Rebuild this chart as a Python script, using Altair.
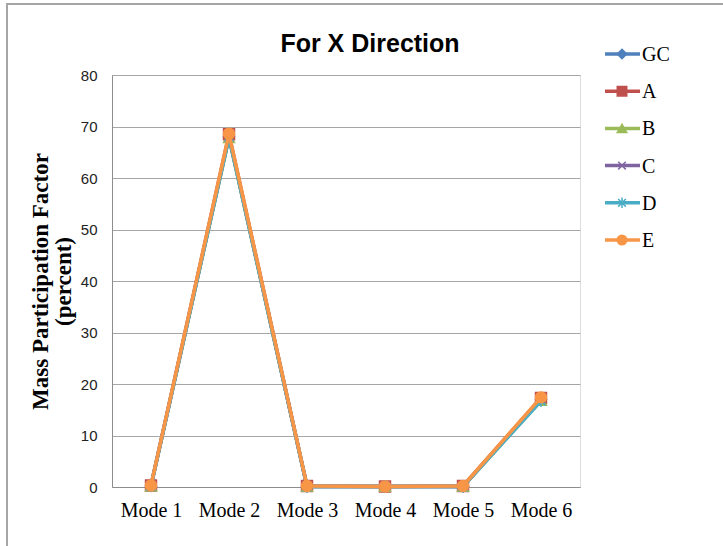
import altair as alt
import pandas as pd

# Mode shapes along the x axis
modes = ["Mode 1", "Mode 2", "Mode 3", "Mode 4", "Mode 5", "Mode 6"]

# Mass participation factor (percent) per model, X direction
gc = [0.2, 68.0, 0.1, 0.1, 0.1, 17.0]
a = [0.3, 68.5, 0.2, 0.1, 0.2, 17.3]
b = [0.2, 67.8, 0.1, 0.1, 0.1, 16.8]
c = [0.2, 68.1, 0.1, 0.1, 0.1, 17.1]
d = [0.2, 67.9, 0.1, 0.1, 0.1, 16.7]
e = [0.3, 68.6, 0.2, 0.1, 0.2, 17.4]

series_names = ["GC", "A", "B", "C", "D", "E"]
series_values = [gc, a, b, c, d, e]
colors = ["#4F81BD", "#C0504D", "#9BBB59", "#8064A2", "#4BACC6", "#F79646"]
shapes = [
    "diamond",
    "square",
    "triangle-up",
    "M-0.8,-0.8L0.8,0.8M-0.8,0.8L0.8,-0.8",
    "M-0.8,-0.8L0.8,0.8M-0.8,0.8L0.8,-0.8M0,-1.1L0,1.1",
    "circle",
]
chart_title = ["For X Direction"]

rows = []
for name, vals in zip(series_names, series_values):
    for m, v in zip(modes, vals):
        rows.append({"mode": m, "value": v, "series": name})
df = pd.DataFrame(rows)
legend_df = pd.DataFrame({"series": series_names})
title_df = pd.DataFrame({"title": chart_title})

serif = "Liberation Serif"
sans = "Liberation Sans"

color_scale = alt.Scale(domain=series_names, range=colors)
shape_scale = alt.Scale(domain=series_names, range=shapes)

x_enc = alt.X(
    "mode:N",
    sort=modes,
    scale=alt.Scale(paddingInner=0, paddingOuter=0),
    axis=alt.Axis(
        title=None, labelAngle=0, labelFont=serif, labelFontSize=20,
        labelColor="#000000", labelPadding=13, ticks=False, grid=False,
        domainColor="#8C8C8C", domainWidth=1,
    ),
)
y_enc = alt.Y(
    "value:Q",
    scale=alt.Scale(domain=[0, 80], nice=False),
    axis=alt.Axis(
        values=list(range(0, 81, 10)),
        title=["Mass Participation Factor", "(percent)"],
        titleFont=serif, titleFontSize=23, titleFontWeight="bold",
        titleColor="#000000", titlePadding=5, titleLineHeight=23,
        labelFont=sans, labelFontSize=15, labelColor="#222222",
        labelPadding=15, ticks=False, grid=True, gridColor="#A6A6A6",
        gridWidth=1, domainColor="#8C8C8C", domainWidth=1,
    ),
)

layers = []

# outer chart frame
frame = alt.Chart(legend_df).mark_rect(
    fill="transparent", stroke="#A6A6A6", strokeWidth=1.5
).encode(x=alt.value(-105), x2=alt.value(640), y=alt.value(-71), y2=alt.value(500))
layers.append(frame)

for name in series_names:
    base = alt.Chart(df).transform_filter(alt.datum.series == name)
    line = base.mark_line(strokeWidth=3.5).encode(
        x=x_enc, y=y_enc,
        color=alt.Color("series:N", scale=color_scale, legend=None),
    )
    pts = base.mark_point(filled=True, size=120, strokeWidth=1.5, opacity=1).encode(
        x=x_enc, y=y_enc,
        color=alt.Color("series:N", scale=color_scale, legend=None),
        stroke=alt.Stroke("series:N", scale=color_scale, legend=None),
        shape=alt.Shape("series:N", scale=shape_scale, legend=None),
    )
    layers.append(line)
    layers.append(pts)

plot = alt.layer(*layers)

# chart heading
heading = alt.Chart(title_df).mark_text(
    font=sans, fontSize=25, fontWeight="bold", color="#000000",
    align="center", baseline="alphabetic",
).encode(x=alt.value(258), y=alt.value(-23), text="title:N")

# legend rows drawn beside the plot
ly = alt.Y("series:N", sort=series_names,
           scale=alt.Scale(type="point", domain=series_names, range=[-21, 165], padding=0),
           axis=None)
leg_line = alt.Chart(legend_df).mark_rule(strokeWidth=3.5).encode(
    x=alt.value(493), x2=alt.value(528), y=ly,
    color=alt.Color("series:N", scale=color_scale, legend=None),
)
leg_pts = alt.Chart(legend_df).mark_point(filled=True, size=90, strokeWidth=1.5, opacity=1).encode(
    x=alt.value(510), y=ly,
    color=alt.Color("series:N", scale=color_scale, legend=None),
    stroke=alt.Stroke("series:N", scale=color_scale, legend=None),
    shape=alt.Shape("series:N", scale=shape_scale, legend=None),
)
leg_text = alt.Chart(legend_df).mark_text(
    align="left", baseline="middle", font=serif, fontSize=20, color="#000000", dy=1
).encode(x=alt.value(530), y=ly, text="series:N")
legend = alt.layer(leg_line, leg_pts, leg_text)

chart = alt.layer(plot, heading, legend).resolve_scale(y="independent").properties(
    width=468,
    height=412,
    autosize=alt.AutoSizeParams(type="none"),
    padding={"left": 112, "top": 75, "right": 143, "bottom": 59},
).configure_view(stroke=None).configure(background="#FFFFFF")

chart.save("out.html", embed_options={"renderer": "svg", "actions": False})
